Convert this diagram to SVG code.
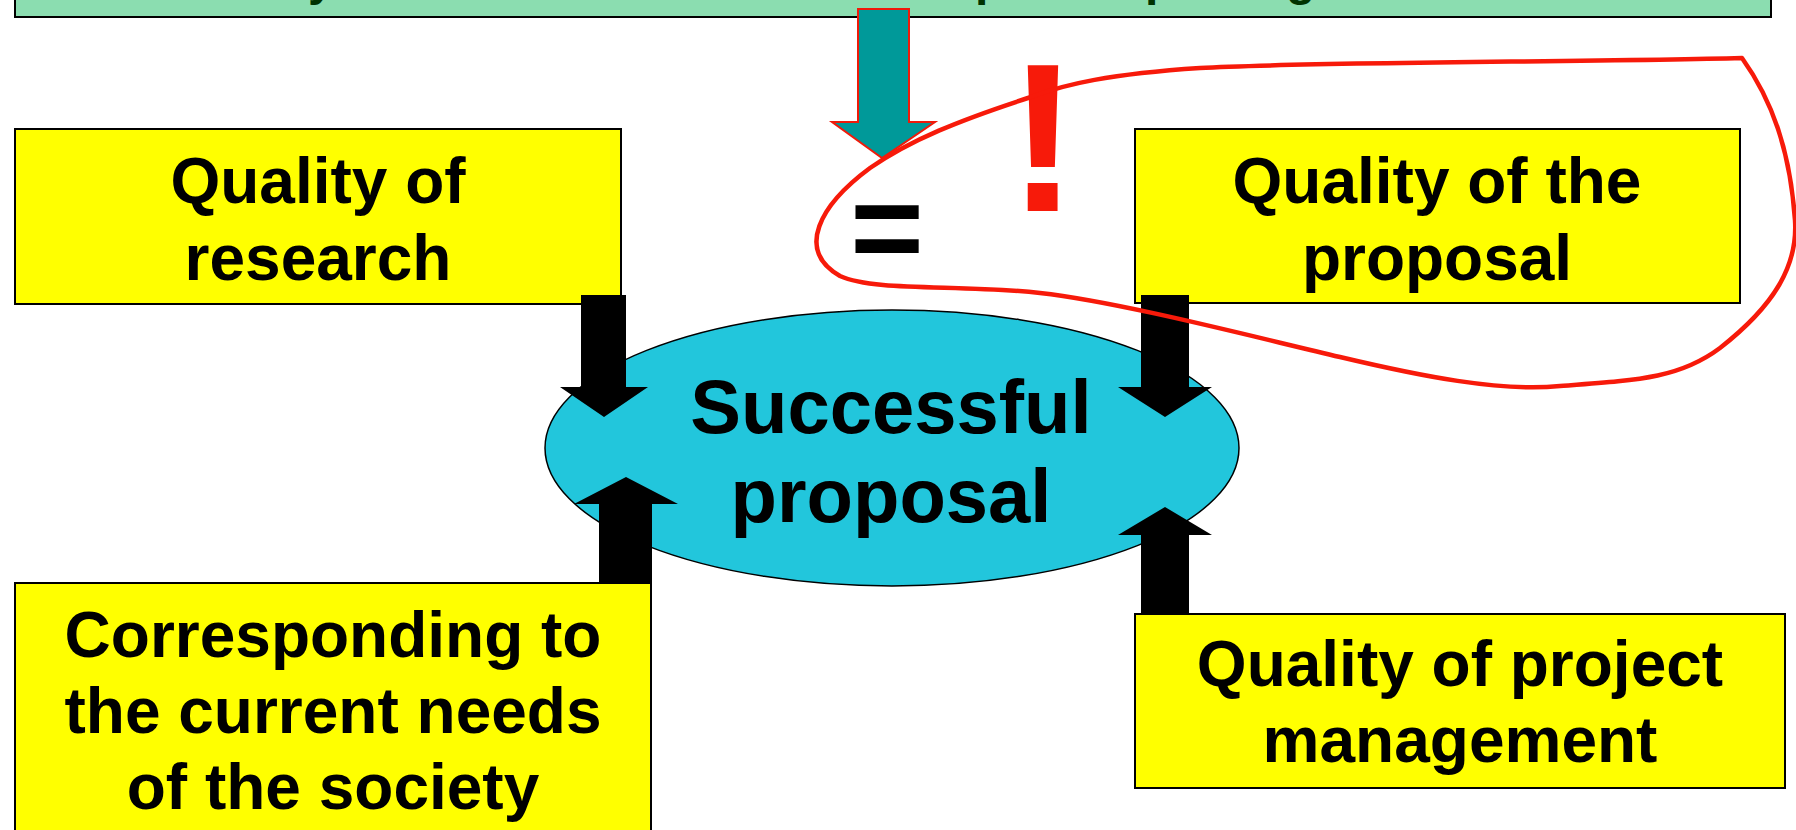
<svg xmlns="http://www.w3.org/2000/svg" width="1796" height="830" viewBox="0 0 1796 830">
<style>
.box{fill:#FFFF00;stroke:#000;stroke-width:2}
.lbl{font-family:"Liberation Sans",Arial,sans-serif;font-weight:bold;font-size:64px;fill:#000;text-anchor:middle}
.big{font-size:76px}
.blk{fill:#000}
</style>
<rect width="1796" height="830" fill="#fff"/>
<g id="top-box">
<rect x="15" y="-10" width="1756" height="27" fill="#8BDDB0" stroke="#000" stroke-width="2"/>
<text x="308 975 1145 1286" y="-5" font-family="Liberation Sans, Arial, sans-serif" font-weight="bold" font-size="48" fill="#003300">yppg</text>
</g>
<g id="quality-research">
<rect class="box" x="15" y="129" width="606" height="175"/>
<text class="lbl" x="318" y="203">Quality of</text>
<text class="lbl" x="318" y="280">research</text>
</g>
<g id="quality-proposal">
<rect class="box" x="1135" y="129" width="605" height="174"/>
<text class="lbl" x="1437" y="203">Quality of the</text>
<text class="lbl" x="1437" y="280">proposal</text>
</g>
<g id="corresponding">
<rect class="box" x="15" y="583" width="636" height="260"/>
<text class="lbl" x="333" y="657">Corresponding to</text>
<text class="lbl" x="333" y="733">the current needs</text>
<text class="lbl" x="333" y="809">of the society</text>
</g>
<g id="project-management">
<rect class="box" x="1135" y="614" width="650" height="174"/>
<text class="lbl" x="1460" y="686">Quality of project</text>
<text class="lbl" x="1460" y="762">management</text>
</g>
<g id="successful-proposal">
<ellipse cx="892" cy="448" rx="347" ry="138" fill="#22C6DC" stroke="#000" stroke-width="1.5"/>
<text class="lbl big" x="891" y="433">Successful</text>
<text class="lbl big" x="891" y="522">proposal</text>
</g>
<g id="equals-mark">
<text x="887" y="271" font-family="Liberation Sans, Arial, sans-serif" font-weight="bold" font-size="126" fill="#000" text-anchor="middle">=</text>
</g>
<g id="exclamation">
<text x="1043" y="211" font-family="Liberation Sans, Arial, sans-serif" font-weight="bold" font-size="212" fill="#F71A0A" text-anchor="middle">!</text>
</g>
<g id="connectors">
<polygon points="858,9 909,9 909,122 935,122 882,158 832,122 858,122" fill="#009999" stroke="#F01A0A" stroke-width="2"/>
<polygon class="blk" points="581,295 626,295 626,387 648,387 604,417 560,387 581,387"/>
<polygon class="blk" points="1141,295 1189,295 1189,387 1212,387 1165,417 1118,387 1141,387"/>
<polygon class="blk" points="626,477 678,504 652,504 652,583 599,583 599,504 574,504"/>
<polygon class="blk" points="1165,507 1212,535 1189,535 1189,614 1141,614 1141,535 1118,535"/>
</g>
<g id="red-loop">
<path d="M1742,58 C1600,62 1300,62 1200,68 C1110,74 1065,84 1031,97 C960,120 910,140 870,168 C820,205 795,250 840,276 C875,292 960,284 1040,293 C1120,302 1250,336 1340,357 C1420,376 1500,392 1560,386 C1640,380 1680,378 1720,348 C1775,305 1798,265 1795,220 C1790,150 1772,100 1742,58 Z" fill="none" stroke="#F71A0A" stroke-width="4.5" stroke-linejoin="round"/>
</g>
</svg>
